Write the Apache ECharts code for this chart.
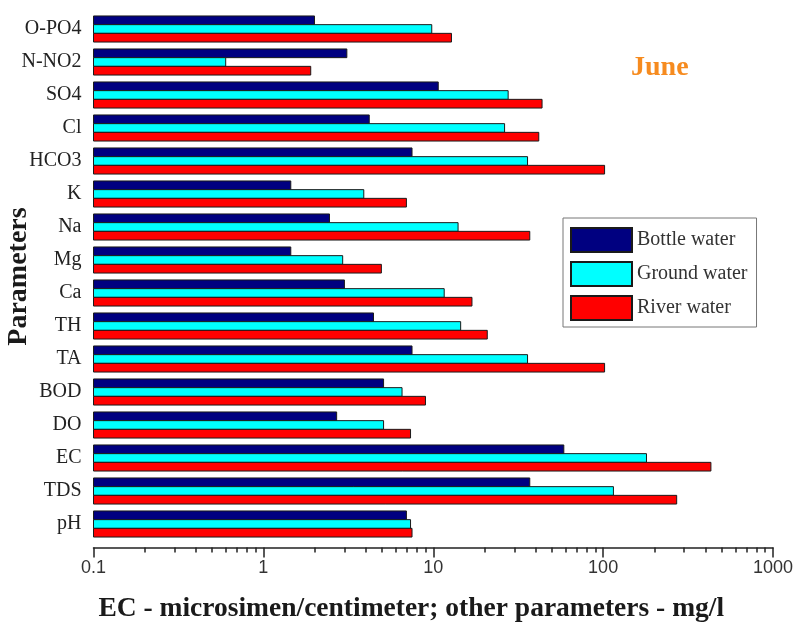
<!DOCTYPE html>
<html>
<head>
<meta charset="utf-8">
<script src="https://cdn.jsdelivr.net/npm/echarts@6/dist/echarts.min.js"></script>
<style>
  html, body { margin: 0; padding: 0; background: #fff; }
  #main { width: 796px; height: 628px; }
</style>
</head>
<body>
<div id="main"></div>
<script>
// parameters, top to bottom as in the figure
var parameters = ["O-PO4", "N-NO2", "SO4", "Cl", "HCO3", "K", "Na", "Mg", "Ca", "TH", "TA", "BOD", "DO", "EC", "TDS", "pH"];

var bottleWater = [2.0, 3.1, 10.7, 4.2, 7.5, 1.45, 2.45, 1.45, 3.0, 4.45, 7.5, 5.1, 2.7, 58.7, 37, 6.95];
var groundWater = [9.8, 0.6, 27.6, 26.3, 35.9, 3.9, 14.0, 2.93, 11.6, 14.5, 35.9, 6.55, 5.1, 180, 115, 7.35];
var riverWater  = [12.8, 1.9, 43.7, 41.8, 102, 6.95, 37, 4.95, 16.9, 20.8, 102, 9.0, 7.35, 431, 271, 7.5];

var seriesNames = ["Bottle water", "Ground water", "River water"];
var seriesColors = ["#000080", "#00ffff", "#ff0000"];

// x axis range and the minor ticks (2..9 in every decade)
var axisMin = 0.1;
var axisMax = 1000;
var minorTickValues = [0.2, 0.3, 0.4, 0.5, 0.6, 0.7, 0.8, 0.9, 2, 3, 4, 5, 6, 7, 8, 9,
  20, 30, 40, 50, 60, 70, 80, 90, 200, 300, 400, 500, 600, 700, 800, 900];

var myChart = echarts.init(document.getElementById("main"));

var serif = "'Liberation Serif', 'DejaVu Serif', serif";
var sans = "'Liberation Sans', Arial, sans-serif";
var groupShare = 0.79; // part of a category band filled by the three bars

// bars drawn from the left end of the log axis (0.1), not from 1
function makeSeries(i, values) {
  return {
    name: seriesNames[i],
    type: "custom",
    xAxisIndex: 0,
    yAxisIndex: 0,
    encode: { x: 0, y: 1 },
    data: values.map(function (v, k) { return [v, k]; }),
    itemStyle: {
      color: seriesColors[i],
      borderColor: "#1a1a1a",
      borderWidth: 1
    },
    emphasis: { disabled: true },
    renderItem: function (params, api) {
      var val = api.value(0);
      var cat = api.value(1);
      var end = api.coord([val, cat]);
      var start = api.coord([axisMin, cat]);
      var next = api.coord([val, cat + 1]);
      var band = Math.abs(next[1] - end[1]);
      var groupH = band * groupShare;
      var barH = groupH / 3;
      var top = end[1] - groupH / 2 + i * barH;
      return {
        type: "rect",
        shape: { x: start[0], y: top, width: end[0] - start[0], height: barH },
        style: { fill: seriesColors[i], stroke: "#1a1a1a", lineWidth: 1 }
      };
    }
  };
}

var option = {
  animation: false,
  backgroundColor: "#fff",
  title: {
    text: "June",
    left: 631,
    top: 54,
    padding: 0,
    textStyle: {
      color: "#f68b1f",
      fontFamily: serif,
      fontWeight: "bold",
      fontSize: 28
    }
  },
  legend: {
    orient: "vertical",
    left: 563,
    top: 218,
    padding: [9, 9, 6, 7],
    itemWidth: 61,
    itemHeight: 24,
    itemGap: 8,
    icon: "rect",
    borderColor: "#777",
    borderWidth: 1,
    data: seriesNames,
    textStyle: {
      color: "#333",
      fontFamily: serif,
      fontSize: 20
    }
  },
  grid: {
    left: 93.5,
    right: 23,
    top: 12.5,
    bottom: 87.5,
    containLabel: false,
    outerBoundsMode: "none"
  },
  xAxis: [
    {
      type: "log",
      logBase: 10,
      min: axisMin,
      max: axisMax,
      position: "bottom",
      offset: 7,
      name: "EC - microsimen/centimeter; other parameters - mg/l",
      nameLocation: "middle",
      nameGap: 47,
      nameMoveOverlap: false,
      nameTextStyle: {
        color: "#1a1a1a",
        fontFamily: serif,
        fontWeight: "bold",
        fontSize: 27.5,
        padding: [0, 44, 0, 0]
      },
      axisLine: { show: true, lineStyle: { color: "#222", width: 1.5 } },
      axisTick: { show: true, length: 10, lineStyle: { color: "#222", width: 1.5 } },
      axisLabel: {
        color: "#333",
        fontFamily: sans,
        fontSize: 18,
        margin: 12,
        formatter: function (v) { return String(v); }
      },
      splitLine: { show: false }
    },
    {
      // hidden companion axis in log units, only for the minor ticks
      type: "value",
      min: Math.log10(axisMin),
      max: Math.log10(axisMax),
      position: "bottom",
      offset: 7,
      axisLine: { show: false },
      axisTick: {
        show: true,
        length: 5,
        lineStyle: { color: "#222", width: 1.5 },
        customValues: minorTickValues.map(function (v) { return Math.log10(v); })
      },
      axisLabel: { show: false },
      splitLine: { show: false }
    }
  ],
  yAxis: {
    type: "category",
    inverse: true,
    data: parameters,
    name: "Parameters",
    nameLocation: "middle",
    nameRotate: 90,
    nameGap: 61,
    nameMoveOverlap: false,
    nameTextStyle: {
      color: "#1a1a1a",
      fontFamily: serif,
      fontWeight: "bold",
      fontSize: 28
    },
    axisLine: { show: false },
    axisTick: { show: false },
    axisLabel: {
      color: "#222",
      fontFamily: serif,
      fontSize: 20,
      margin: 12
    },
    splitLine: { show: false }
  },
  series: [
    makeSeries(0, bottleWater),
    makeSeries(1, groundWater),
    makeSeries(2, riverWater)
  ]
};

myChart.setOption(option);
</script>
</body>
</html>
